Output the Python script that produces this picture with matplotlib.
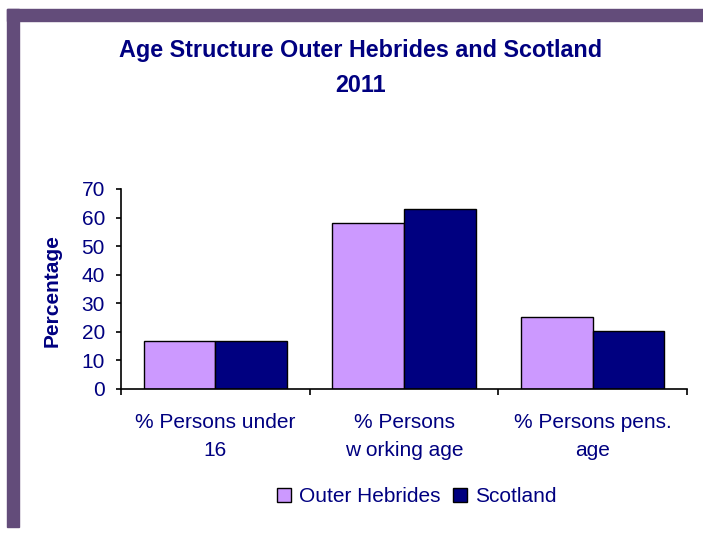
import matplotlib.pyplot as plt
import numpy as np
from matplotlib.patches import Rectangle

plt.rcParams['font.family'] = ['Liberation Sans', 'DejaVu Sans']

# DATA
categories = ["% Persons under\n16", "% Persons\nw orking age", "% Persons pens.\nage"]
outer_hebrides = [16.8, 58.2, 25.2]
scotland = [16.8, 63.1, 20.3]
series_names = ["Outer Hebrides", "Scotland"]

NAVY = "#000080"
LILAC = "#CC99FF"
FRAME = "#634C7A"

fig = plt.figure(figsize=(7.03, 5.33), dpi=100)

# purple frame on top and left
fig.patches.append(Rectangle((7 / 703, 1 - 21 / 533), 1, 12 / 533, transform=fig.transFigure,
                             color=FRAME, zorder=0))
fig.patches.append(Rectangle((7 / 703, 1 - 527 / 533), 12 / 703, 518 / 533, transform=fig.transFigure,
                             color=FRAME, zorder=0))

ax = fig.add_axes([121 / 703, 1 - 389 / 533, 566 / 703, 200 / 533])

x = np.arange(len(categories))
w = 0.38
ax.bar(x - w / 2, outer_hebrides, w, color=LILAC, edgecolor="black", linewidth=1, label=series_names[0])
ax.bar(x + w / 2, scotland, w, color=NAVY, edgecolor="black", linewidth=1, label=series_names[1])

ax.set_xlim(-0.5, 2.5)
ax.set_ylim(0, 70)
ax.set_yticks(range(0, 71, 10))
ax.tick_params(axis="y", labelsize=15, labelcolor=NAVY, length=3.6, width=1.2, pad=8)

# boundary ticks, labels in between
ax.set_xticks([-0.5, 0.5, 1.5, 2.5])
ax.set_xticklabels([])
ax.tick_params(axis="x", which="major", length=4, width=1.2)
ax.set_xticks(x, minor=True)
ax.set_xticklabels(categories, minor=True, fontsize=15, color=NAVY, linespacing=1.62)
ax.tick_params(axis="x", which="minor", length=0, pad=17)

for s in ["top", "right"]:
    ax.spines[s].set_visible(False)
for s in ["left", "bottom"]:
    ax.spines[s].set_linewidth(1.2)

# y axis title
fig.text(52 / 703, 1 - 291 / 533, "Percentage", rotation=90, ha="center", va="center",
         fontsize=15, fontweight="bold", color=NAVY)

fig.text(361 / 703, 1 - 51 / 533, "Age Structure Outer Hebrides and Scotland",
         ha="center", va="center", fontsize=16.8, fontweight="bold", color=NAVY)
fig.text(361 / 703, 1 - 85 / 533, "2011",
         ha="center", va="center", fontsize=16.8, fontweight="bold", color=NAVY)

leg = fig.legend(loc="center", bbox_to_anchor=(417 / 703, 1 - 497 / 533), ncol=2, frameon=False,
                 fontsize=15, handlelength=0.65, handleheight=0.65, handletextpad=0.4,
                 columnspacing=0.6)
for t in leg.get_texts():
    t.set_color(NAVY)

fig.savefig("out.png", dpi=100)
